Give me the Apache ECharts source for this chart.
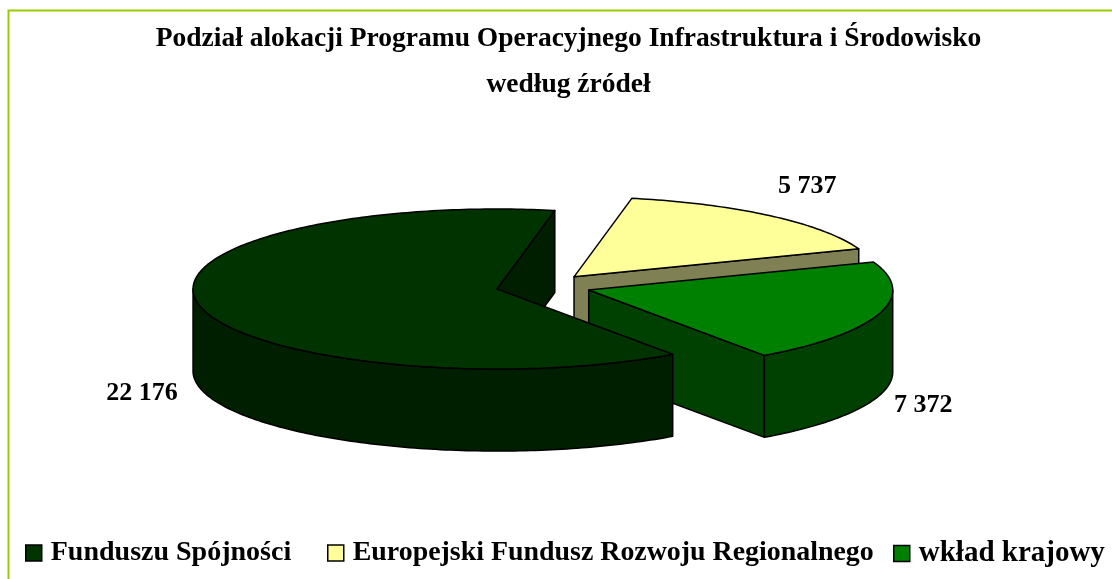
<!DOCTYPE html>
<html>
<head>
<meta charset="utf-8">
<style>
  html, body { margin: 0; padding: 0; background: #fff; }
  #chart { width: 1112px; height: 579px; }
</style>
<script src="https://cdn.jsdelivr.net/npm/echarts@6/dist/echarts.min.js"></script>
</head>
<body>
<div id="chart"></div>
<script>
// dane
const titleLines = ["Podział alokacji Programu Operacyjnego Infrastruktura i Środowisko", "według źródeł"];
const categories = ["Funduszu Spójności", "Europejski Fundusz Rozwoju Regionalnego", "wkład krajowy"];
const seriesValues = [22176, 5737, 7372];

// wyglad
const topColors = ["#003300", "#FFFF99", "#008000"];
const sideColors = ["#001F00", "#808055", "#004000"];
const drawOrder = [3, 1, 2]; // duzy wycinek na wierzchu
const labelShift = [[-58, 87], [37, -30], [44, 92]];
const legendLeft = [25, 327, 893];
const legendFontSize = [28, 27.9, 29];
const FONT = '"Liberation Serif", serif';

// geometria pseudo-3D
const cx = 543.4, cy = 286.4, rx = 304, ry = 80, depth = 82, explode = 0.156;
const firstAngle = 144.7; // stopnie, zgodnie z zegarem od gory

const total = seriesValues.reduce((a, b) => a + b, 0);
const startAngles = [];
let acc = firstAngle;
seriesValues.forEach(v => {
  startAngles.push(acc % 360);
  acc += (v / total) * 360;
});

function rimPoint(ox, oy, deg, down) {
  const r = (deg * Math.PI) / 180;
  return [ox + rx * Math.sin(r), oy - ry * Math.cos(r) + (down || 0)];
}

function arcPoints(ox, oy, from, to, down) {
  const pts = [];
  for (let a = from; a < to; a += 1) pts.push(rimPoint(ox, oy, a, down));
  pts.push(rimPoint(ox, oy, to, down));
  return pts;
}

function renderSlice(i) {
  return function (params, api) {
    const sweep = (api.value(0) / total) * 360;
    const a0 = startAngles[i];
    const a1 = a0 + sweep;
    const mid = (a0 + a1) / 2;
    const m = (mid * Math.PI) / 180;
    const ox = cx + rx * explode * Math.sin(m);
    const oy = cy - ry * explode * Math.cos(m);
    const line = { stroke: "#000", lineWidth: 1.5, lineJoin: "round" };
    const side = Object.assign({ fill: sideColors[i] }, line);
    const children = [];

    // sciana przy koncu wycinka
    const end = rimPoint(ox, oy, a1);
    children.push({
      type: "polygon",
      shape: { points: [[ox, oy], end, [end[0], end[1] + depth], [ox, oy + depth]] },
      style: side
    });

    // zewnetrzna sciana - tylko przednia polowa
    const from = Math.max(a0, 90);
    const to = Math.min(a1, 270);
    if (to > from) {
      const upper = arcPoints(ox, oy, from, to, 0);
      const lower = arcPoints(ox, oy, from, to, depth).reverse();
      children.push({
        type: "polygon",
        shape: { points: upper.concat(lower) },
        style: side
      });
    }

    // wierzch
    children.push({
      type: "polygon",
      shape: { points: [[ox, oy]].concat(arcPoints(ox, oy, a0, a1, 0)) },
      style: Object.assign({ fill: topColors[i] }, line)
    });

    // etykieta
    const p = rimPoint(ox, oy, mid);
    children.push({
      type: "text",
      style: {
        x: p[0] + labelShift[i][0],
        y: p[1] + labelShift[i][1],
        text: String(api.value(0)).replace(/\B(?=(\d{3})+$)/g, " "),
        font: 'bold 26px ' + FONT,
        fill: "#000",
        align: "center",
        verticalAlign: "middle"
      }
    });

    return { type: "group", children: children };
  };
}

const chart = echarts.init(document.getElementById("chart"), null, { renderer: "canvas" });

chart.setOption({
  animation: false,
  backgroundColor: "#fff",
  title: {
    text: titleLines.join("\n"),
    left: 563.5,
    top: 11,
    textAlign: "center",
    textStyle: { fontFamily: FONT, fontSize: 27.5, fontWeight: "bold", color: "#000", lineHeight: 46 }
  },
  legend: categories.map((name, i) => ({
    data: [name],
    left: legendLeft[i],
    top: 539,
    padding: 0,
    icon: "rect",
    itemWidth: 16,
    itemHeight: 16,
    selectedMode: false,
    itemStyle: { borderColor: "#000", borderWidth: 1.5 },
    textStyle: { fontFamily: FONT, fontSize: legendFontSize[i], fontWeight: "bold", color: "#000", padding: [0, 0, 0, 4] }
  })),
  graphic: [{
    type: "rect",
    silent: true,
    shape: { x: 8.5, y: 10.5, width: 1200, height: 700 },
    style: { fill: "none", stroke: "#99CC00", lineWidth: 2 }
  }],
  series: categories.map((name, i) => ({
    name: name,
    type: "custom",
    coordinateSystem: "none",
    z: drawOrder[i],
    silent: true,
    itemStyle: { color: topColors[i] },
    renderItem: renderSlice(i),
    data: [[seriesValues[i]]]
  }))
});
</script>
</body>
</html>
